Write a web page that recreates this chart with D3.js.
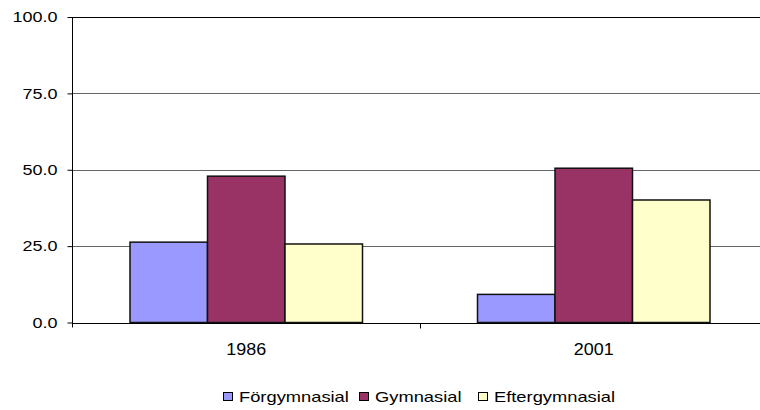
<!DOCTYPE html>
<html>
<head>
<meta charset="utf-8">
<script src="https://cdn.jsdelivr.net/npm/d3@7"></script>
<style>
  body { margin: 0; background: #fff; }
  text { font-family: "Liberation Sans", Arial, sans-serif; fill: #000; }
</style>
</head>
<body>
<svg width="760" height="410"></svg>
<script>
  // data
  var years = ["1986", "2001"];
  var series = ["Förgymnasial", "Gymnasial", "Eftergymnasial"];
  var forgymnasial = [26.3, 9.2];
  var gymnasial = [47.9, 50.5];
  var eftergymnasial = [25.7, 40.1];
  var yTicks = [0, 25, 50, 75, 100];
  var colors = ["#9999ff", "#993366", "#ffffcc"];

  var values = [forgymnasial, gymnasial, eftergymnasial];
  var rows = years.map(function(y, i) {
    return series.map(function(s, j) { return { year: y, key: s, value: values[j][i] }; });
  });

  var svg = d3.select("svg");

  var x0 = d3.scaleBand().domain(years).range([72.5, 767.5]);
  var x1 = d3.scaleBand().domain(series).range([0, x0.bandwidth()]).paddingOuter(0.742);
  var y = d3.scaleLinear().domain([0, 100]).range([322.5, 17]);
  var color = d3.scaleOrdinal().domain(series).range(colors);

  // the original is a little stretched sideways, so text is too
  function stretch(sel, k) {
    sel.each(function() {
      var w = this.getComputedTextLength();
      d3.select(this).attr("textLength", w * k).attr("lengthAdjust", "spacingAndGlyphs");
    });
  }

  // gridlines
  svg.append("g")
    .selectAll("line")
    .data(yTicks.slice(1))
    .enter()
    .append("line")
    .attr("x1", 72).attr("x2", 760)
    .attr("y1", function(d) { return Math.round(y(d)) + 0.5; })
    .attr("y2", function(d) { return Math.round(y(d)) + 0.5; })
    .attr("stroke", function(d) { return d === 100 ? "#000" : "#666"; })
    .attr("stroke-width", 1);

  // bars
  svg.append("g")
    .selectAll("g")
    .data(rows)
    .enter()
    .append("g")
    .attr("transform", function(d) { return "translate(" + x0(d[0].year) + ",0)"; })
    .selectAll("rect")
    .data(function(d) { return d; })
    .enter()
    .append("rect")
    .attr("x", function(d) { return x1(d.key); })
    .attr("width", x1.bandwidth())
    .attr("y", function(d) { return y(d.value); })
    .attr("height", function(d) { return y(0) - y(d.value); })
    .attr("fill", function(d) { return color(d.key); })
    .attr("stroke", "#111")
    .attr("stroke-width", 1.5);

  // y axis
  var yAxis = svg.append("g")
    .attr("transform", "translate(72.5,0)")
    .call(d3.axisLeft(y).tickValues(yTicks).tickFormat(d3.format(".1f")).tickSize(5).tickPadding(10));
  yAxis.select(".domain").attr("d", "M0," + y(100) + "V" + (y(0) + 5));
  yAxis.selectAll("text").style("font-size", "15px").attr("font-family", null);
  stretch(yAxis.selectAll("text"), 1.2);

  // x axis
  var xAxis = svg.append("g")
    .attr("transform", "translate(0," + (Math.round(y(0)) + 0.5) + ")");
  xAxis.append("line")
    .attr("x1", 72).attr("x2", 760)
    .attr("stroke", "#000");
  xAxis.selectAll("line.tick")
    .data([x0.range()[0] + x0.step()])
    .enter()
    .append("line")
    .attr("class", "tick")
    .attr("x1", function(d) { return Math.round(d) + 0.5; })
    .attr("x2", function(d) { return Math.round(d) + 0.5; })
    .attr("y1", 0).attr("y2", 5)
    .attr("stroke", "#000");
  var xLabels = xAxis.selectAll("text")
    .data(years)
    .enter()
    .append("text")
    .attr("x", function(d) { return x0(d) + x0.bandwidth() / 2; })
    .attr("y", 31)
    .attr("text-anchor", "middle")
    .style("font-size", "16px")
    .text(function(d) { return d; });
  stretch(xLabels, 1.12);

  // legend
  var legendX = [223, 359, 478];
  var legend = svg.append("g")
    .selectAll("g")
    .data(series)
    .enter()
    .append("g")
    .attr("transform", function(d, i) { return "translate(" + legendX[i] + ",0)"; });
  legend.append("rect")
    .attr("x", 0.5).attr("y", 392.5)
    .attr("width", 9).attr("height", 8)
    .attr("fill", function(d) { return color(d); })
    .attr("stroke", "#000");
  var legendText = legend.append("text")
    .attr("x", 16).attr("y", 401.5)
    .style("font-size", "15px")
    .text(function(d) { return d; });
  stretch(legendText, 1.22);
</script>
</body>
</html>
